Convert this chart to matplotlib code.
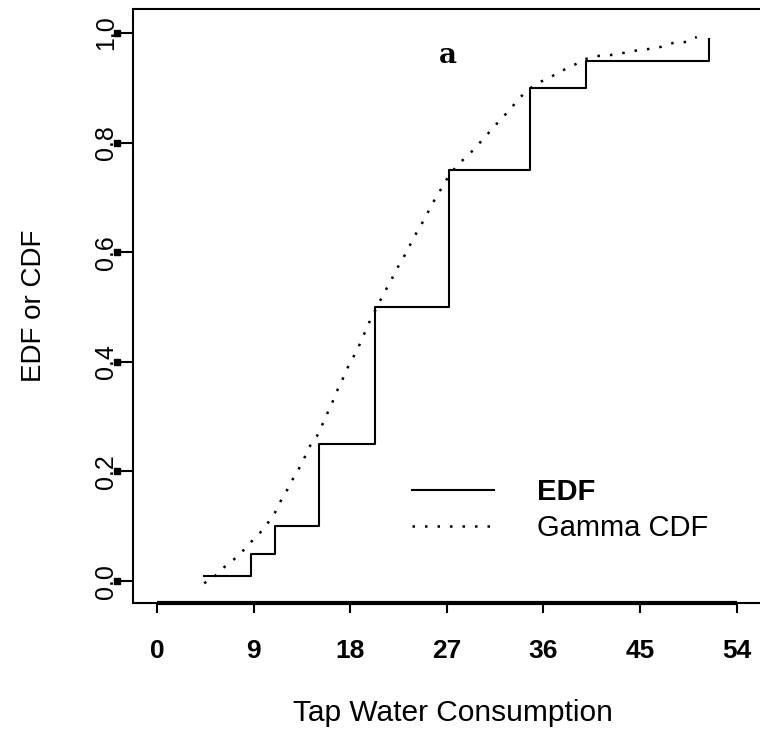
import matplotlib
matplotlib.use('Agg')
import matplotlib.pyplot as plt
import matplotlib.transforms as mtransforms

plt.rcParams['font.family'] = ['Liberation Sans', 'DejaVu Sans']

# EDF steps (percentile points of tap water consumption)
edf_x = [4.4, 8.75, 11.0, 15.1, 20.3, 27.2, 34.8, 40.0, 51.4]
edf_y = [0.01, 0.05, 0.10, 0.25, 0.50, 0.75, 0.90, 0.95, 0.99]

# fitted gamma CDF
gam_x = [4.4, 5.4, 6.3, 7.2, 8.0, 8.8, 9.6, 10.3, 11.0, 11.5, 12.1, 12.6, 13.2, 13.7,
         14.2, 14.9, 15.4, 15.8, 16.3, 16.7, 17.25, 17.7, 18.2, 18.8, 19.2, 19.7, 20.7,
         21.2, 21.8, 22.3, 22.9, 23.4, 23.9, 24.5, 25.1, 25.6, 26.2, 26.8, 27.4, 28.2,
         29.1, 29.9, 30.6, 31.4, 32.2, 33.0, 33.7, 34.6, 35.5, 36.6, 37.7, 38.8, 39.8,
         40.9, 42.3, 43.5, 44.6, 45.8, 47.0, 48.1, 49.4, 50.3]
gam_y = [-0.004, 0.009, 0.026, 0.040, 0.055, 0.072, 0.088, 0.105, 0.125, 0.145, 0.165,
         0.184, 0.204, 0.223, 0.245, 0.264, 0.285, 0.303, 0.324, 0.344, 0.366, 0.387,
         0.405, 0.428, 0.446, 0.469, 0.508, 0.527, 0.548, 0.568, 0.588, 0.606, 0.626,
         0.646, 0.667, 0.687, 0.706, 0.727, 0.745, 0.763, 0.779, 0.796, 0.811, 0.829,
         0.846, 0.863, 0.880, 0.897, 0.909, 0.919, 0.931, 0.941, 0.952, 0.958, 0.960,
         0.964, 0.968, 0.971, 0.975, 0.982, 0.984, 0.993]

x_ticks = [0, 9, 18, 27, 36, 45, 54]
y_ticks = [0.0, 0.2, 0.4, 0.6, 0.8, 1.0]
y_tick_labels = ['0.0', '0.2', '0.4', '0.6', '0.8', '1.0']

fig = plt.figure(figsize=(7.6, 7.32), dpi=100)
ax = fig.add_axes([133 / 760, 1 - 603 / 732, 640 / 760, 594 / 732])

ax.step(edf_x, edf_y, where='post', color='black', lw=1.5, label='EDF')
ax.plot(gam_x, gam_y, color='black', lw=1.8, linestyle=(0, (1, 4)), label='Gamma CDF')

ax.set_xlim(-2.23, 57.4)
ax.set_ylim(-0.040, 1.044)

for s in ['left', 'top', 'bottom']:
    ax.spines[s].set_linewidth(1.5)
ax.spines['right'].set_visible(False)

# thick x axis line over the tick range
ax.plot([x_ticks[0], x_ticks[-1]], [-0.040, -0.040], color='black', lw=3,
        solid_capstyle='butt', clip_on=False)

ax.set_xticks(x_ticks)
ax.set_xticklabels([str(t) for t in x_ticks], fontsize=19, fontweight='bold')
ax.tick_params(axis='x', direction='out', length=7, width=1.5, pad=19)

ax.set_yticks(y_ticks)
ax.set_yticklabels(y_tick_labels, fontsize=18, rotation=90, va='center')
ax.tick_params(axis='y', direction='out', length=9.5, width=1.5, pad=1)

# little square blobs at the ends of the y ticks
trans = mtransforms.blended_transform_factory(ax.transAxes, ax.transData)
ax.plot([-0.025] * len(y_ticks), y_ticks, 's', color='black', ms=5,
        transform=trans, clip_on=False)

ax.set_xlabel('Tap Water Consumption', fontsize=21.5, labelpad=26)
ax.set_ylabel('EDF or CDF', fontsize=20, labelpad=34)

ax.text(27.1, 0.96, 'a', fontsize=20, fontweight='bold', family='DejaVu Serif',
        ha='center', va='center')

leg = ax.legend(loc='center left', bbox_to_anchor=((412 - 133) / 640, (603 - 510) / 594),
                frameon=False, fontsize=21, handlelength=2.8, handletextpad=1.5,
                borderpad=0, borderaxespad=0, labelspacing=0.28)
leg.get_texts()[0].set_fontweight('bold')

fig.savefig('out.png', dpi=100)
